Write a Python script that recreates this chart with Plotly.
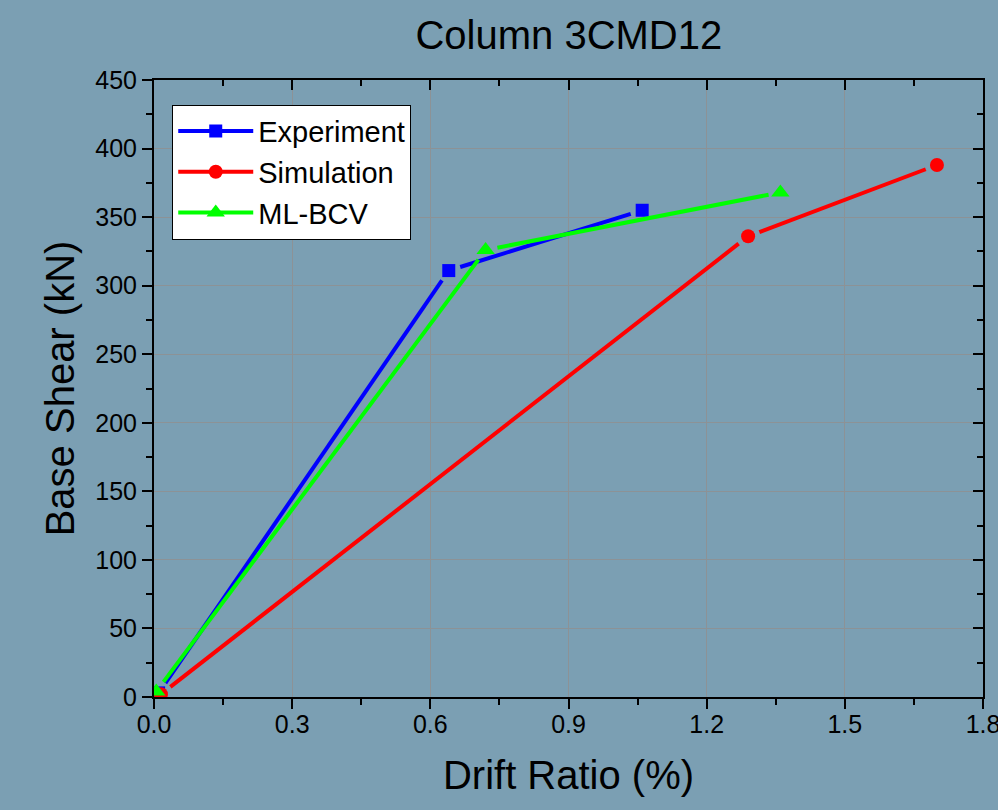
import plotly.graph_objects as go
import math

exp_x = [0.01, 0.64, 1.06]
exp_y = [3, 311, 355]
sim_x = [0.015, 1.29, 1.70]
sim_y = [2, 336, 388]
ml_x = [0.005, 0.72, 1.36]
ml_y = [4, 326, 368]

x_ticks = [0.0, 0.3, 0.6, 0.9, 1.2, 1.5, 1.8]
x_tick_text = ["0.0", "0.3", "0.6", "0.9", "1.2", "1.5", "1.8"]
y_ticks = [0, 50, 100, 150, 200, 250, 300, 350, 400, 450]

BG = "#7b9fb3"
FONT = "Liberation Sans, Arial, sans-serif"
W, H = 998, 810
ML, MR, MT, MB = 154, 15, 80, 113
XR, YR = [0, 1.8], [0, 450]
sx = (W - ML - MR) / (XR[1] - XR[0])
sy = (H - MT - MB) / (YR[1] - YR[0])


def gapped(xs, ys, gap):
    """Line segments between points, shortened at both ends by `gap` pixels (Origin-style)."""
    ox, oy = [], []
    for i in range(len(xs) - 1):
        dx = (xs[i + 1] - xs[i]) * sx
        dy = (ys[i + 1] - ys[i]) * sy
        L = math.hypot(dx, dy)
        if L <= 2 * gap:
            continue
        f = gap / L
        ox += [xs[i] + (xs[i + 1] - xs[i]) * f, xs[i + 1] - (xs[i + 1] - xs[i]) * f, None]
        oy += [ys[i] + (ys[i + 1] - ys[i]) * f, ys[i + 1] - (ys[i + 1] - ys[i]) * f, None]
    return ox, oy


series = [
    ("Experiment", exp_x, exp_y, "#0000ff", "square", 13, [11, 13, 13]),
    ("Simulation", sim_x, sim_y, "#ff0000", "circle", 14, [11, 13, 13]),
    ("ML-BCV", ml_x, ml_y, "#00ff00", "triangle-up", 16, [11, 13, 13]),
]

fig = go.Figure()
for name, xs, ys, col, sym, msz, _ in series:
    lx, ly = gapped(xs, ys, 12)
    fig.add_trace(go.Scatter(x=lx, y=ly, mode="lines", line=dict(color=col, width=4),
                             showlegend=False, hoverinfo="skip"))
    fig.add_trace(go.Scatter(x=xs, y=ys, mode="markers", name=name,
                             marker=dict(symbol=sym, size=msz, color=col), showlegend=False))
    # legend entry
    fig.add_trace(go.Scatter(x=[None], y=[None], mode="lines+markers", name=name,
                             line=dict(color=col, width=4),
                             marker=dict(symbol=sym, size=msz, color=col)))

# invisible trace to host the mirrored axes
fig.add_trace(go.Scatter(x=[0], y=[0], xaxis="x2", yaxis="y2", mode="markers",
                         marker=dict(opacity=0), showlegend=False, hoverinfo="skip"))

common = dict(showline=True, linecolor="black", linewidth=2, zeroline=False, automargin=False)
fig.update_layout(
    width=W, height=H,
    paper_bgcolor=BG, plot_bgcolor=BG,
    margin=dict(l=ML, r=MR, t=MT, b=MB),
    font=dict(family=FONT, color="black"),
    title=dict(text="Column 3CMD12", x=0.57, xanchor="center", y=0.957, yanchor="middle",
               font=dict(size=40, family=FONT, color="black")),
    xaxis=dict(range=XR, tickvals=x_ticks, ticktext=x_tick_text,
               ticks="outside", ticklen=10, tickwidth=2, tickcolor="black",
               minor=dict(dtick=0.15, ticks="outside", ticklen=6, tickwidth=2, tickcolor="black", showgrid=False),
               showgrid=True, gridcolor="#8c9296", gridwidth=1,
               tickfont=dict(size=25, family=FONT), ticklabeloverflow="allow",
               ticklabelstandoff=-6,
               title=dict(text="Drift Ratio (%)", font=dict(size=40, family=FONT), standoff=24),
               **common),
    yaxis=dict(range=YR, tickvals=y_ticks,
               ticks="outside", ticklen=10, tickwidth=2, tickcolor="black",
               minor=dict(dtick=25, ticks="outside", ticklen=6, tickwidth=2, tickcolor="black", showgrid=False),
               showgrid=True, gridcolor="#8c9296", gridwidth=1,
               tickfont=dict(size=25, family=FONT),
               title=dict(text="Base Shear (kN)", font=dict(size=40, family=FONT), standoff=8),
               **common),
    xaxis2=dict(overlaying="x", side="top", range=XR, tickvals=x_ticks,
                showticklabels=False, ticks="inside", ticklen=10, tickwidth=2, tickcolor="black",
                minor=dict(dtick=0.15, ticks="inside", ticklen=6, tickwidth=2, tickcolor="black", showgrid=False),
                showgrid=False, **common),
    yaxis2=dict(overlaying="y", side="right", range=YR, tickvals=y_ticks,
                showticklabels=False, ticks="inside", ticklen=10, tickwidth=2, tickcolor="black",
                minor=dict(dtick=25, ticks="inside", ticklen=6, tickwidth=2, tickcolor="black", showgrid=False),
                showgrid=False, **common),
    legend=dict(x=0.022, y=0.96, xanchor="left", yanchor="top",
                bgcolor="white", bordercolor="black", borderwidth=1,
                font=dict(size=29, family=FONT, color="black"),
                itemwidth=75, tracegroupgap=0),
    showlegend=True,
)

fig.write_html("out.html")
